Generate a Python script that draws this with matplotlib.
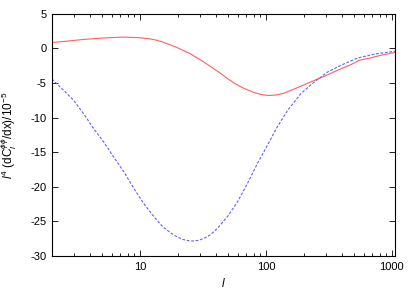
import matplotlib
matplotlib.use("Agg")
import matplotlib.pyplot as plt
from matplotlib.ticker import LogLocator, FixedLocator, NullFormatter

plt.rcParams['font.family'] = ['Liberation Sans', 'DejaVu Sans']
plt.rcParams['mathtext.fontset'] = 'custom'
plt.rcParams['mathtext.rm'] = 'Liberation Sans'
plt.rcParams['mathtext.it'] = 'Liberation Sans:italic'
plt.rcParams['mathtext.sf'] = 'Liberation Sans'

# red solid curve
red_l = [2.0, 2.6, 3.55, 5.0, 7.4, 10, 12.1, 13.5, 15, 19.2, 25, 30.5, 34.3, 38.7, 44, 49.5, 57, 67.1, 80, 91.2,
         105, 122, 140, 179, 228, 292, 372, 476, 554, 645, 824, 1060]
red_v = [0.85, 1.05, 1.3, 1.5, 1.65, 1.55, 1.38, 1.2, 0.95, 0.23, -0.75, -1.69, -2.3, -2.95, -3.65, -4.34, -5.1,
         -5.78, -6.35, -6.65, -6.8, -6.72, -6.45, -5.64, -4.82, -4.0, -3.14, -2.31, -1.69, -1.45, -0.97, -0.58]

# blue dashed curve
blue_l = [2.0, 2.47, 2.97, 3.56, 4.28, 5.15, 6.18, 7.43, 8.93, 10.7, 12.9, 15.2, 18.6, 21.8, 25.3, 29,
          32.2, 36.5, 41.2, 49.5, 59.4, 71.4, 85.8, 103, 122, 149, 190, 243, 310, 396, 537, 730, 1060]
blue_v = [-4.4, -6.03, -7.47, -9.4, -11.56, -13.5, -15.67, -17.8, -20.2, -22.4, -24.3, -25.8, -26.98,
          -27.6, -27.85, -27.75, -27.46, -26.9, -26.0, -24.3, -22.2, -19.5, -16.6, -13.97, -11.45, -8.92,
          -6.5, -4.82, -3.38, -2.41, -1.36, -0.82, -0.39]

xticks = [10, 100, 1000]
xticklabels = ['10', '100', '1000']
yticks = [5, 0, -5, -10, -15, -20, -25, -30]

fig = plt.figure(figsize=(4.15, 2.91), dpi=100)
ax = fig.add_axes([0.125, 0.1203, 0.827, 0.832])

ax.plot(red_l, red_v, color='#ff6060', lw=0.8, solid_joinstyle='round')
ax.plot(blue_l, blue_v, color='#6060ff', lw=0.8, ls=(0, (2.5, 1.5)))

ax.set_xscale('log')
ax.set_xlim(2, 1060)
ax.set_ylim(-30, 5)
ax.xaxis.set_major_locator(FixedLocator(xticks))
ax.set_xticks(xticks)
ax.set_xticklabels(xticklabels)
ax.xaxis.set_minor_locator(LogLocator(base=10, subs=range(2, 10)))
ax.xaxis.set_minor_formatter(NullFormatter())
ax.set_yticks(yticks)
ax.set_yticklabels([str(t) for t in yticks])

ax.tick_params(which='both', direction='in', top=True, right=True, labelsize=8, width=0.6, colors='black', pad=4)
ax.tick_params(which='major', length=4)
ax.tick_params(which='minor', length=2)
for s in ax.spines.values():
    s.set_linewidth(0.8)

ax.set_xlabel('$l$', fontsize=8.5, labelpad=4)
ax.set_ylabel(r'$l^4$ (dC$_l^{\phi\phi}$/dx)/10$^{-5}$', fontsize=8.5)
ax.yaxis.set_label_coords(-0.095, 0.5)

fig.savefig('out.png', dpi=100)
